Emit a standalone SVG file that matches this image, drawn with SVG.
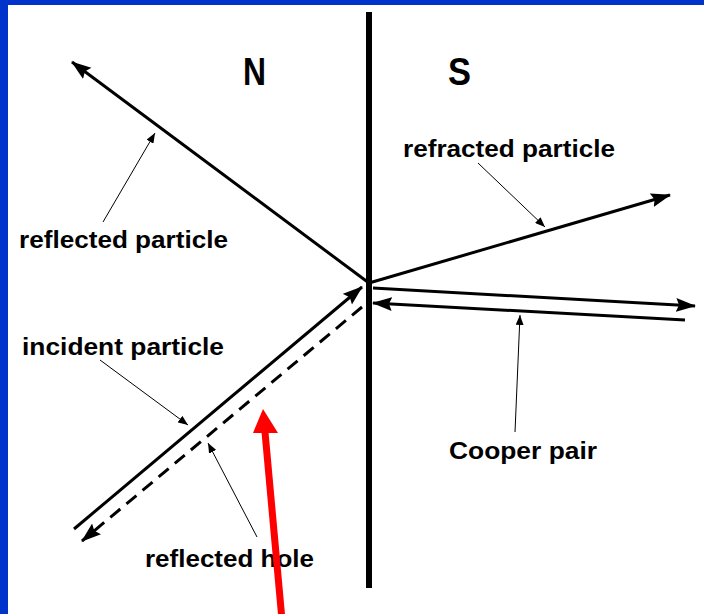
<svg xmlns="http://www.w3.org/2000/svg" width="704" height="614" viewBox="0 0 704 614">
<defs>
<style>
.main{stroke:#000;stroke-width:3;fill:none}
.dash{stroke:#000;stroke-width:3;fill:none;stroke-dasharray:13 8}
.lead{stroke:#000;stroke-width:1;fill:none}
.lbl{font-family:"Liberation Sans",Arial,sans-serif;font-weight:bold;font-size:24px;fill:#000}
.big{font-family:"Liberation Sans",Arial,sans-serif;font-weight:bold;font-size:38px;fill:#000}
</style>
<marker id="ah" markerUnits="userSpaceOnUse" markerWidth="22" markerHeight="16" refX="19" refY="8" orient="auto">
<path d="M0,1 L20,8 L0,15 L3,8 z" fill="#000"/>
</marker>
<marker id="sh" markerUnits="userSpaceOnUse" markerWidth="11" markerHeight="8" refX="10" refY="4" orient="auto">
<path d="M0,0 L10,4 L0,8 z" fill="#000"/>
</marker>
</defs>
<rect x="0" y="0" width="704" height="614" fill="#0033cc"/>
<rect x="8" y="5" width="696" height="609" fill="#fff"/>
<g id="interface">
<line x1="369" y1="12" x2="369" y2="588" stroke="#000" stroke-width="6"/>
</g>
<g id="label-N"><text class="big" x="243" y="85" textLength="23" lengthAdjust="spacingAndGlyphs">N</text></g>
<g id="label-S"><text class="big" x="448" y="85" textLength="23" lengthAdjust="spacingAndGlyphs">S</text></g>
<g id="connectors">
<line class="main" x1="369" y1="283" x2="72" y2="62" marker-end="url(#ah)"/>
<line class="main" x1="369" y1="283" x2="670" y2="195" marker-end="url(#ah)"/>
<line class="main" x1="373" y1="288" x2="695" y2="306" marker-end="url(#ah)"/>
<line class="main" x1="685" y1="320" x2="373" y2="303" marker-end="url(#ah)"/>
<line class="main" x1="74" y1="529" x2="362" y2="287" marker-end="url(#ah)"/>
<line class="dash" x1="362" y1="307" x2="82" y2="541" marker-end="url(#ah)"/>
<line class="lead" x1="103" y1="222" x2="155" y2="133" marker-end="url(#sh)"/>
<line class="lead" x1="478" y1="163" x2="545" y2="227" marker-end="url(#sh)"/>
<line class="lead" x1="100" y1="360" x2="188" y2="425" marker-end="url(#sh)"/>
<line class="lead" x1="515" y1="432" x2="520" y2="315" marker-end="url(#sh)"/>
<line class="lead" x1="257" y1="537" x2="208" y2="443" marker-end="url(#sh)"/>
</g>
<g id="label-refracted"><text class="lbl" x="403" y="157" textLength="212" lengthAdjust="spacingAndGlyphs">refracted particle</text></g>
<g id="label-reflected"><text class="lbl" x="19" y="248" textLength="209" lengthAdjust="spacingAndGlyphs">reflected particle</text></g>
<g id="label-incident"><text class="lbl" x="22" y="355" textLength="202" lengthAdjust="spacingAndGlyphs">incident particle</text></g>
<g id="label-cooper"><text class="lbl" x="449" y="459" textLength="148" lengthAdjust="spacingAndGlyphs">Cooper pair</text></g>
<g id="label-hole"><text class="lbl" x="145" y="567" textLength="169" lengthAdjust="spacingAndGlyphs">reflected hole</text></g>
<g id="red-arrow">
<line x1="282" y1="620" x2="265" y2="432" stroke="#ff0000" stroke-width="7"/>
<path d="M263,409 L253,433 L278,433 z" fill="#ff0000"/>
</g>
</svg>
